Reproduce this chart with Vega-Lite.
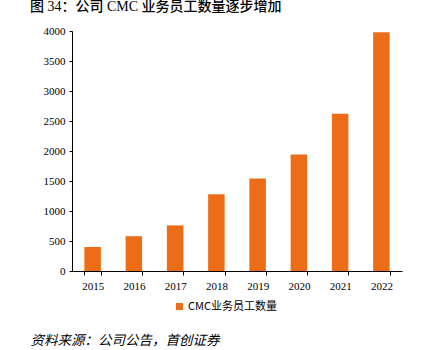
{
  "$schema": "https://vega.github.io/schema/vega-lite/v6.json",
  "width": 330,
  "height": 240,
  "autosize": {"type": "none"},
  "padding": {"left": 72, "top": 31, "right": 28, "bottom": 79},
  "background": "white",
  "title": {
    "text": "图 34：公司 CMC 业务员工数量逐步增加",
    "anchor": "start",
    "frame": "group",
    "dx": -42,
    "offset": 11,
    "fontSize": 14,
    "font": "Liberation Serif, Noto Sans CJK SC",
    "fontWeight": 500,
    "color": "#000000"
  },
  "data": {
    "values": [
      {"year": "2015", "value": 400, "series": "CMC业务员工数量"},
      {"year": "2016", "value": 580, "series": "CMC业务员工数量"},
      {"year": "2017", "value": 760, "series": "CMC业务员工数量"},
      {"year": "2018", "value": 1280, "series": "CMC业务员工数量"},
      {"year": "2019", "value": 1540, "series": "CMC业务员工数量"},
      {"year": "2020", "value": 1940, "series": "CMC业务员工数量"},
      {"year": "2021", "value": 2620, "series": "CMC业务员工数量"},
      {"year": "2022", "value": 3980, "series": "CMC业务员工数量"}
    ]
  },
  "mark": {"type": "bar"},
  "encoding": {
    "x": {
      "field": "year",
      "type": "nominal",
      "scale": {"paddingInner": 0.6, "paddingOuter": 0.3},
      "axis": {
        "title": "资料来源：公司公告，首创证券",
        "titleX": -42,
        "titleY": 69,
        "titleAlign": "left",
        "titleBaseline": "middle",
        "titleFont": "Noto Sans CJK SC",
        "titleFontStyle": "italic",
        "titleFontWeight": "normal",
        "titleFontSize": 13.5,
        "titleColor": "#000000",
        "labelAngle": 0,
        "labelFont": "Liberation Serif",
        "labelFontSize": 11,
        "labelColor": "#000000",
        "labelPadding": 5,
        "tickBand": "extent",
        "tickSize": 4,
        "tickColor": "#000000",
        "domainColor": "#000000",
        "grid": false
      }
    },
    "y": {
      "field": "value",
      "type": "quantitative",
      "scale": {"domain": [0, 4000], "nice": false},
      "axis": {
        "title": null,
        "format": "d",
        "values": [0, 500, 1000, 1500, 2000, 2500, 3000, 3500, 4000],
        "labelFont": "Liberation Serif",
        "labelFontSize": 11,
        "labelColor": "#000000",
        "labelPadding": 4,
        "tickSize": 3,
        "tickColor": "#000000",
        "domainColor": "#000000",
        "grid": false
      }
    },
    "color": {
      "field": "series",
      "type": "nominal",
      "scale": {"range": ["#ED6C18"]},
      "legend": {
        "title": null,
        "orient": "none",
        "legendX": 102,
        "legendY": 270,
        "symbolType": "square",
        "symbolSize": 49,
        "symbolStrokeWidth": 0,
        "labelFont": "Noto Sans CJK SC",
        "labelFontSize": 11,
        "labelColor": "#000000",
        "labelOffset": 3
      }
    }
  },
  "config": {"view": {"stroke": null}}
}
